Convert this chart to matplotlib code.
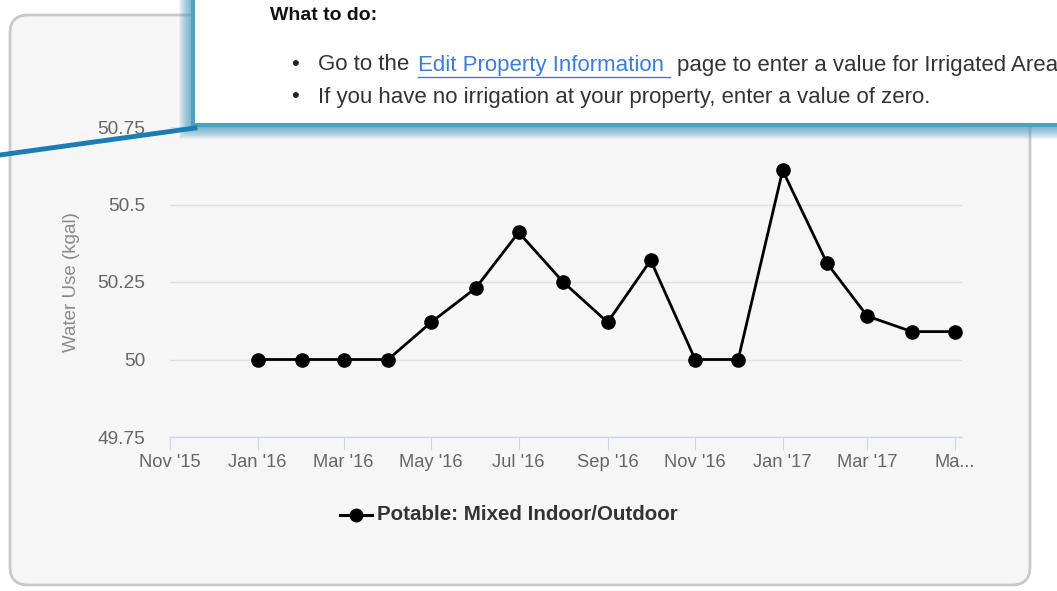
import matplotlib
matplotlib.use("Agg")
import matplotlib.pyplot as plt
from matplotlib.patches import FancyBboxPatch, Rectangle
from matplotlib.lines import Line2D
from matplotlib.transforms import IdentityTransform
import pandas as pd

# ---------------- data ----------------
months = ["2016-01", "2016-02", "2016-03", "2016-04", "2016-05", "2016-06",
          "2016-07", "2016-08", "2016-09", "2016-10", "2016-11", "2016-12",
          "2017-01", "2017-02", "2017-03", "2017-04", "2017-05"]
water_use = [50.0, 50.0, 50.0, 50.0, 50.12, 50.23, 50.41, 50.25, 50.12,
             50.32, 50.0, 50.0, 50.61, 50.31, 50.14, 50.09, 50.09]
tick_dates = ["2015-11", "2016-01", "2016-03", "2016-05", "2016-07", "2016-09",
              "2016-11", "2017-01", "2017-03", "2017-05"]
tick_labels = ["Nov '15", "Jan '16", "Mar '16", "May '16", "Jul '16", "Sep '16",
               "Nov '16", "Jan '17", "Mar '17", "Ma..."]
y_ticks = [49.75, 50, 50.25, 50.5, 50.75]
y_tick_labels = ["49.75", "50", "50.25", "50.5", "50.75"]
series_name = "Potable: Mixed Indoor/Outdoor"

plt.rcParams['font.family'] = ['Liberation Sans', 'DejaVu Sans']

W, H = 1057, 591
fig = plt.figure(figsize=(W / 100, H / 100), dpi=100)
fig.patch.set_facecolor('white')

def P(x, y):
    # pixel (top-down) to display coords
    return x, H - y

# card background
card = FancyBboxPatch(P(10, 585), 1020, 570,
                      boxstyle="round,pad=0,rounding_size=18",
                      transform=IdentityTransform(), facecolor='#f6f6f6',
                      edgecolor='#c9c9c9', linewidth=2, zorder=-5)
fig.patches.append(card)

# axes
ax = fig.add_axes([170 / W, 1 - 437 / H, 792 / W, 310 / H])
ax.set_zorder(1)
ax.set_facecolor('none')
x = pd.to_datetime(months)
ax.plot(x, water_use, color='black', linewidth=2.0, marker='o',
        markersize=9.5, markerfacecolor='black', zorder=3, clip_on=False)

ax.set_ylim(49.75, 50.75)
ax.set_xlim(pd.Timestamp("2015-11-01"), pd.Timestamp("2017-05-06"))
ax.set_yticks(y_ticks)
ax.set_yticklabels(y_tick_labels)
ax.set_xticks(pd.to_datetime(tick_dates))
ax.set_xticklabels(tick_labels)
for s in ['top', 'right', 'left']:
    ax.spines[s].set_visible(False)
ax.spines['bottom'].set_color('#ccd6eb')
ax.spines['bottom'].set_linewidth(1)
ax.grid(axis='y', color='#e0e0e0', linewidth=1)
ax.set_axisbelow(True)
ax.tick_params(axis='x', direction='out', length=9, color='#ccd6eb',
               labelcolor='#666666', labelsize=13.2, pad=3)
ax.tick_params(axis='y', length=0, labelcolor='#666666', labelsize=13.8, pad=18)
ax.set_ylabel("Water Use (kgal)", color='#8a8a8a', fontsize=13.5, labelpad=12)

# legend (custom placed)
fig.lines.append(Line2D([340 / W, 372 / W], [1 - 515 / H, 1 - 515 / H],
                        transform=fig.transFigure, color='black', linewidth=2.2))
fig.lines.append(Line2D([356 / W], [1 - 515 / H], transform=fig.transFigure,
                        color='black', marker='o', markersize=9))
fig.text(377 / W, 1 - 515 / H, series_name, fontsize=14.8, fontweight='bold',
         color='#333333', va='center', ha='left')

# popup overlay with soft blue glow
blue = '#4f9fc3'
for k in range(12, 0, -1):
    fig.patches.append(Rectangle(P(191 - k, 127 + k), W, 127 + k,
                                 transform=IdentityTransform(),
                                 facecolor=blue, alpha=0.09,
                                 edgecolor='none', zorder=9))
fig.patches.append(Rectangle(P(191, 127), W, 127,
                             transform=IdentityTransform(),
                             facecolor=blue, edgecolor='none', zorder=10))
fig.patches.append(Rectangle(P(195, 123), W - 195, 123,
                             transform=IdentityTransform(),
                             facecolor='white', edgecolor='none', zorder=11))
fig.lines.append(Line2D([0, 195 / W], [1 - 155 / H, 1 - 128 / H],
                        transform=fig.transFigure, color='#1b7db3',
                        linewidth=3.5, zorder=12))

fs = 16
fig.text(270 / W, 1 - 15 / H, "What to do:", fontsize=14, fontweight='bold',
         color='#111111', va='center', ha='left', zorder=13)
fig.text(291 / W, 1 - 65 / H, "•", fontsize=fs, color='#222222',
         va='center', ha='left', zorder=13)
fig.text(291 / W, 1 - 97 / H, "•", fontsize=fs, color='#222222',
         va='center', ha='left', zorder=13)
fig.text(318 / W, 1 - 65 / H, "Go to the", fontsize=fs, color='#333333',
         va='center', ha='left', zorder=13)
fig.text(418 / W, 1 - 65 / H, "Edit Property Information", fontsize=fs,
         color='#3b7ddd', va='center', ha='left', zorder=13)
fig.lines.append(Line2D([418 / W, 670 / W], [1 - 77 / H, 1 - 77 / H],
                        transform=fig.transFigure, color='#3b7ddd',
                        linewidth=1, zorder=13))
fig.text(677 / W, 1 - 65 / H, "page to enter a value for Irrigated Area",
         fontsize=fs, color='#333333', va='center', ha='left', zorder=13)
fig.text(318 / W, 1 - 97 / H,
         "If you have no irrigation at your property, enter a value of zero.",
         fontsize=fs, color='#333333', va='center', ha='left', zorder=13)

fig.savefig("out.png", dpi=100)
